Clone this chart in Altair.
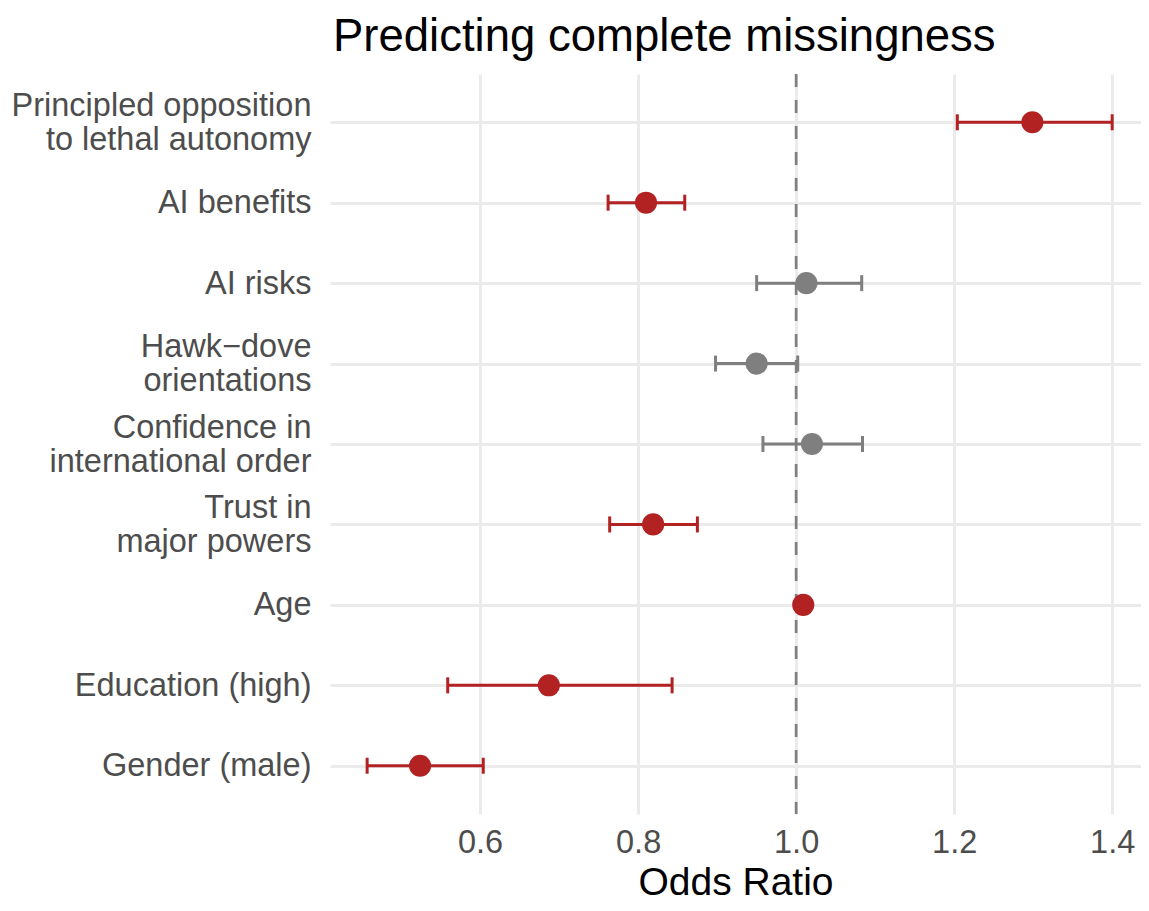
import altair as alt
import pandas as pd

# ---- data ----
predictors = [
    "Principled opposition|to lethal autonomy",
    "AI benefits",
    "AI risks",
    "Hawk\u2212dove|orientations",
    "Confidence in|international order",
    "Trust in|major powers",
    "Age",
    "Education (high)",
    "Gender (male)",
]
odds_ratio = [1.299, 0.810, 1.013, 0.950, 1.020, 0.819, 1.009, 0.687, 0.524]
ci_low = [1.204, 0.762, 0.950, 0.898, 0.958, 0.764, 1.005, 0.559, 0.457]
ci_high = [1.400, 0.859, 1.083, 1.002, 1.084, 0.875, 1.013, 0.843, 0.604]
significant = ["yes", "yes", "no", "no", "no", "yes", "yes", "yes", "yes"]
x_ticks = [0.6, 0.8, 1.0, 1.2, 1.4]
x_domain = [0.41, 1.4365]

df = pd.DataFrame({
    "predictor": predictors,
    "or": odds_ratio,
    "lo": ci_low,
    "hi": ci_high,
    "sig": significant,
})

FONT = "Liberation Sans"
RED = "#B22222"
GREY = "#7F7F7F"

color = alt.Color(
    "sig:N",
    scale=alt.Scale(domain=["yes", "no"], range=[RED, GREY]),
    legend=None,
)

y_enc = alt.Y(
    "predictor:N",
    sort=predictors,
    scale=alt.Scale(type="point", padding=0.6),
    axis=alt.Axis(
        title=None,
        labelExpr="split(datum.label, '|')",
        labelOffset=alt.ExprRef(expr="indexof(datum.value, '|') >= 0 ? -17 : 0"),
        labelFont=FONT,
        labelFontSize=32.5,
        labelColor="#4D4D4D",
        labelLineHeight=34,
        labelPadding=19,
        labelLimit=400,
        ticks=False,
        tickSize=0,
        domain=False,
        grid=True,
        gridColor="#EBEBEB",
        gridWidth=3,
    ),
)

x_scale = alt.Scale(domain=x_domain, nice=False, zero=False)
x_axis = alt.Axis(
    title="Odds Ratio",
    values=x_ticks,
    format=".1f",
    labelFont=FONT,
    labelFontSize=32.5,
    labelColor="#4D4D4D",
    labelPadding=12,
    ticks=False,
    tickSize=0,
    domain=False,
    grid=True,
    gridColor="#EBEBEB",
    gridWidth=3,
    titleFont=FONT,
    titleFontSize=39,
    titleFontWeight="normal",
    titleColor="#000000",
    titlePadding=5,
)

base = alt.Chart(df)

ref_rule = alt.Chart(pd.DataFrame({"ref": [1.0]})).mark_rule(
    color=GREY, strokeWidth=2.7, strokeDash=[13, 13]
).encode(x=alt.X("ref:Q", scale=x_scale, axis=x_axis))

bars = base.mark_rule(strokeWidth=3, opacity=1).encode(
    x=alt.X("lo:Q", scale=x_scale, axis=x_axis),
    x2="hi:Q",
    y=y_enc,
    color=color,
)

cap_lo = base.mark_tick(size=16, thickness=3, orient="vertical", opacity=1).encode(
    x=alt.X("lo:Q", scale=x_scale, axis=x_axis), y=y_enc, color=color
)
cap_hi = base.mark_tick(size=16, thickness=3, orient="vertical", opacity=1).encode(
    x=alt.X("hi:Q", scale=x_scale, axis=x_axis), y=y_enc, color=color
)

points = base.mark_circle(size=490, opacity=1).encode(
    x=alt.X("or:Q", scale=x_scale, axis=x_axis),
    y=y_enc,
    color=color,
)

chart = alt.layer(ref_rule, bars, cap_lo, cap_hi, points).properties(
    width=811,
    height=740,
    background="white",
    title=alt.TitleParams(
        "Predicting complete missingness",
        font=FONT,
        fontSize=45.5,
        fontWeight="normal",
        color="#000000",
        anchor="start",
        frame="group",
        dx=3,
        offset=12,
    ),
    autosize=alt.AutoSizeParams(type="none"),
    padding={"left": 322, "top": 66, "right": 0, "bottom": 89},
).configure_view(strokeWidth=0, stroke="transparent")

chart.save("out.html", embed_options={"renderer": "svg", "actions": False})
